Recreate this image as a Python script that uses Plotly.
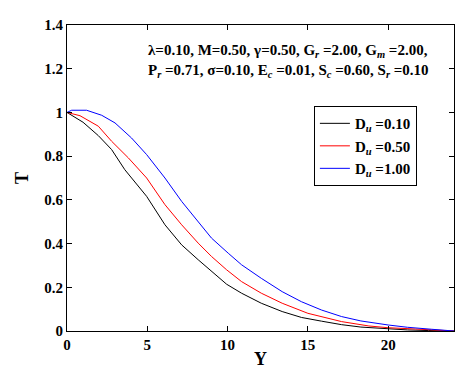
import plotly.graph_objects as go

# Y values and temperature profiles
y_black = [0, 1.0, 1.95, 2.78, 3.6, 4.65, 4.96, 6.1, 7.14, 8.17, 9.0, 9.94, 10.87,
           12.1, 13.4, 14.6, 15.85, 17.1, 18.3, 20.0, 21.2, 22.5, 23.3, 24.1]
t_black = [1.0, 0.955, 0.894, 0.83, 0.738, 0.646, 0.616, 0.486, 0.394, 0.326, 0.272,
           0.214, 0.173, 0.127, 0.089, 0.062, 0.045, 0.029, 0.018, 0.009, 0.005, 0.002, 0.0, 0.0]

y_red = [0, 0.81, 1.95, 2.78, 3.82, 4.96, 6.1, 7.14, 8.17, 9.0, 9.94, 10.87, 12.1,
         13.4, 15.0, 17.1, 18.8, 20.0, 21.7, 23.3, 24.1]
t_red = [1.0, 0.985, 0.937, 0.868, 0.792, 0.70, 0.578, 0.486, 0.402, 0.341, 0.28,
         0.226, 0.173, 0.127, 0.081, 0.043, 0.023, 0.015, 0.009, 0.003, 0.0]

y_blue = [0, 0.29, 1.22, 2.16, 2.99, 4.02, 4.96, 6.1, 7.14, 8.17, 9.0, 10.04, 10.87,
          12.1, 13.4, 14.6, 15.85, 17.1, 18.3, 20.0, 21.2, 22.7, 24.1]
t_blue = [1.0, 1.01, 1.01, 0.987, 0.952, 0.883, 0.807, 0.70, 0.593, 0.501, 0.425,
          0.356, 0.303, 0.241, 0.18, 0.134, 0.096, 0.066, 0.046, 0.0275, 0.017, 0.008, 0.0]

names = ["D<sub><i>u</i></sub> =0.10", "D<sub><i>u</i></sub> =0.50", "D<sub><i>u</i></sub> =1.00"]
colors = ["black", "red", "blue"]

font = dict(family="Liberation Serif", size=15, color="black")

fig = go.Figure()
for xs, ys, nm, c in zip([y_black, y_red, y_blue], [t_black, t_red, t_blue], names, colors):
    fig.add_trace(go.Scatter(x=xs, y=ys, mode="lines", name=nm,
                             line=dict(color=c, width=1)))

axis_common = dict(
    showgrid=False, zeroline=False, showline=True, linecolor="black", linewidth=1,
    mirror="ticks", ticks="inside", ticklen=5, tickcolor="black", automargin=False,
    tickfont=dict(family="Liberation Serif", size=15, color="black", weight="bold"),
)

fig.update_layout(
    width=471, height=372,
    margin=dict(l=59, r=25, t=17, b=49),
    paper_bgcolor="white", plot_bgcolor="white",
    font=font,
    xaxis=dict(range=[0, 24.1], tickvals=[0, 5, 10, 15, 20],
               title=dict(text="<b>Y</b>", standoff=0), **axis_common),
    yaxis=dict(range=[0, 1.4], tickvals=[0, 0.2, 0.4, 0.6, 0.8, 1, 1.2, 1.4],
               title=dict(text="<b>T</b>", standoff=10), **axis_common),
    legend=dict(x=0.638, y=0.735, xanchor="left", yanchor="top",
                bordercolor="black", borderwidth=1, bgcolor="white",
                font=dict(family="Liberation Serif", size=15, color="black", weight="bold"),
                tracegroupgap=0, itemwidth=30),
    showlegend=True,
)

fig.add_annotation(
    xref="paper", yref="paper", x=0.205, y=0.95, xanchor="left", yanchor="top",
    align="left", showarrow=False,
    text="λ=0.10, M=0.50, γ=0.50, G<sub><i>r</i></sub> =2.00, G<sub><i>m</i></sub> =2.00,<br>"
         "P<sub><i>r</i></sub> =0.71, σ=0.10, E<sub><i>c</i></sub> =0.01, "
         "S<sub><i>c</i></sub> =0.60, S<sub><i>r</i></sub> =0.10",
    font=dict(family="Liberation Serif", size=15, color="black", weight="bold"),
)

fig.write_html("out.html")
